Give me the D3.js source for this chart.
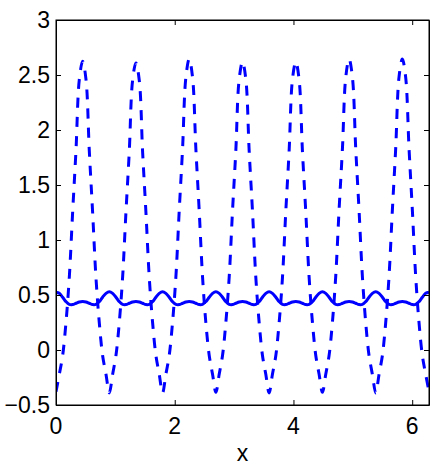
<!DOCTYPE html>
<html>
<head>
<meta charset="utf-8">
<script src="https://cdn.jsdelivr.net/npm/d3@7"></script>
<style>
  html, body { margin: 0; padding: 0; background: #fff; }
  svg { display: block; }
  text { font-family: "Liberation Sans", Arial, Helvetica, sans-serif; fill: #000; }
</style>
</head>
<body>
<svg id="chart" width="435" height="466"></svg>
<script>
// ---- data ----
const xValues = [
  0.000,0.056,0.112,0.168,0.224,0.281,0.337,0.393,0.449,0.505,0.561,0.617,0.673,0.729,0.785,0.842,
  0.898,0.954,1.010,1.066,1.122,1.178,1.234,1.290,1.346,1.403,1.459,1.515,1.571,1.627,1.683,1.739,
  1.795,1.851,1.907,1.963,2.020,2.076,2.132,2.188,2.244,2.300,2.356,2.412,2.468,2.524,2.581,2.637,
  2.693,2.749,2.805,2.861,2.917,2.973,3.029,3.085,3.142,3.198,3.254,3.310,3.366,3.422,3.478,3.534,
  3.590,3.646,3.703,3.759,3.815,3.871,3.927,3.983,4.039,4.095,4.151,4.207,4.264,4.320,4.376,4.432,
  4.488,4.544,4.600,4.656,4.712,4.768,4.825,4.881,4.937,4.993,5.049,5.105,5.161,5.217,5.273,5.329,
  5.386,5.442,5.498,5.554,5.610,5.666,5.722,5.778,5.834,5.890,5.947,6.003,6.059,6.115,6.171,6.227,
  6.283
];

const dashedValues = [
  -0.38,-0.22,-0.05,0.25,0.66,1.26,1.82,2.46,2.625,2.46,1.81,1.25,0.66,0.25,-0.05,-0.22,
  -0.39,-0.22,-0.05,0.25,0.66,1.25,1.80,2.45,2.61,2.45,1.80,1.25,0.66,0.25,-0.05,-0.22,
  -0.39,-0.22,-0.05,0.25,0.67,1.27,1.83,2.48,2.645,2.48,1.83,1.27,0.67,0.25,-0.05,-0.22,
  -0.385,-0.22,-0.05,0.25,0.66,1.26,1.81,2.46,2.62,2.46,1.81,1.26,0.66,0.25,-0.05,-0.22,
  -0.39,-0.22,-0.05,0.25,0.66,1.26,1.81,2.46,2.62,2.46,1.81,1.26,0.66,0.25,-0.05,-0.22,
  -0.385,-0.22,-0.05,0.25,0.67,1.27,1.83,2.48,2.645,2.48,1.83,1.27,0.67,0.25,-0.05,-0.22,
  -0.39,-0.22,-0.05,0.25,0.67,1.27,1.83,2.48,2.645,2.48,1.83,1.27,0.67,0.25,-0.05,-0.22,
  -0.38
];

const solidValues = [
  0.525,0.515,0.48,0.44,0.415,0.413,0.425,0.437,0.44,0.437,0.425,0.413,0.415,0.44,0.48,0.515,
  0.53,0.515,0.48,0.44,0.415,0.413,0.425,0.437,0.44,0.437,0.425,0.413,0.415,0.44,0.48,0.515,
  0.53,0.515,0.48,0.44,0.415,0.413,0.425,0.437,0.44,0.437,0.425,0.413,0.415,0.44,0.48,0.515,
  0.53,0.515,0.48,0.44,0.415,0.413,0.425,0.437,0.44,0.437,0.425,0.413,0.415,0.44,0.48,0.515,
  0.53,0.515,0.48,0.44,0.415,0.413,0.425,0.437,0.44,0.437,0.425,0.413,0.415,0.44,0.48,0.515,
  0.53,0.515,0.48,0.44,0.415,0.413,0.425,0.437,0.44,0.437,0.425,0.413,0.415,0.44,0.48,0.515,
  0.53,0.515,0.48,0.44,0.415,0.413,0.425,0.437,0.44,0.437,0.425,0.413,0.415,0.44,0.48,0.515,
  0.525
];

const xTicks = [0, 2, 4, 6];
const yTicks = [-0.5, 0, 0.5, 1, 1.5, 2, 2.5, 3];
const xDomain = [0, 6.2832];
const yDomain = [-0.5, 3];
const xLabel = "x";

// ---- layout ----
const M = { left: 56, right: 429, top: 20, bottom: 405 };
const svg = d3.select("#chart");

const x = d3.scaleLinear().domain(xDomain).range([M.left, M.right]);
const y = d3.scaleLinear().domain(yDomain).range([M.bottom, M.top]);

const fmt = v => (v < 0 ? "\u2212" + String(Math.abs(v)) : String(v));

// clip
svg.append("clipPath").attr("id", "clip")
  .append("rect").attr("x", M.left).attr("y", M.top)
  .attr("width", M.right - M.left).attr("height", M.bottom - M.top);

// lines
const makeLine = vals => d3.line()
  .x((d, i) => x(xValues[i]))
  .y(d => y(d))
  .curve(d3.curveCatmullRom.alpha(0.5))(vals);

const plot = svg.append("g").attr("clip-path", "url(#clip)");
plot.append("path")
  .attr("d", makeLine(dashedValues))
  .attr("fill", "none").attr("stroke", "#0000ff")
  .attr("stroke-width", 3).attr("stroke-dasharray", "10,9");
plot.append("path")
  .attr("d", makeLine(solidValues))
  .attr("fill", "none").attr("stroke", "#0000ff")
  .attr("stroke-width", 3);

// axes (ticks pointing inward, box on)
const tickLen = 5;
const axB = d3.axisBottom(x).tickValues(xTicks).tickSizeInner(-tickLen).tickSizeOuter(0).tickFormat("");
const axT = d3.axisTop(x).tickValues(xTicks).tickSizeInner(-tickLen).tickSizeOuter(0).tickFormat("");
const axL = d3.axisLeft(y).tickValues(yTicks).tickSizeInner(-tickLen).tickSizeOuter(0).tickFormat("");
const axR = d3.axisRight(y).tickValues(yTicks).tickSizeInner(-tickLen).tickSizeOuter(0).tickFormat("");

svg.append("g").attr("transform", `translate(0,${M.bottom})`).call(axB);
svg.append("g").attr("transform", `translate(0,${M.top})`).call(axT);
svg.append("g").attr("transform", `translate(${M.left},0)`).call(axL);
svg.append("g").attr("transform", `translate(${M.right},0)`).call(axR);
svg.selectAll(".domain").attr("stroke", "#000").attr("stroke-width", 1);
svg.selectAll(".tick line").attr("stroke", "#000");

// box
svg.append("rect").attr("x", M.left).attr("y", M.top)
  .attr("width", M.right - M.left).attr("height", M.bottom - M.top)
  .attr("fill", "none").attr("stroke", "#000").attr("stroke-width", 1);

// tick labels
svg.append("g").selectAll("text").data(xTicks).join("text")
  .attr("x", d => x(d)).attr("y", 434)
  .attr("text-anchor", "middle").attr("font-size", 23)
  .text(fmt);

svg.append("g").selectAll("text").data(yTicks).join("text")
  .attr("x", 50).attr("y", d => y(d) + 8)
  .attr("text-anchor", "end").attr("font-size", 23)
  .text(fmt);

// axis label
svg.append("text")
  .attr("x", (M.left + M.right) / 2).attr("y", 461)
  .attr("text-anchor", "middle").attr("font-size", 23)
  .text(xLabel);
</script>
</body>
</html>
